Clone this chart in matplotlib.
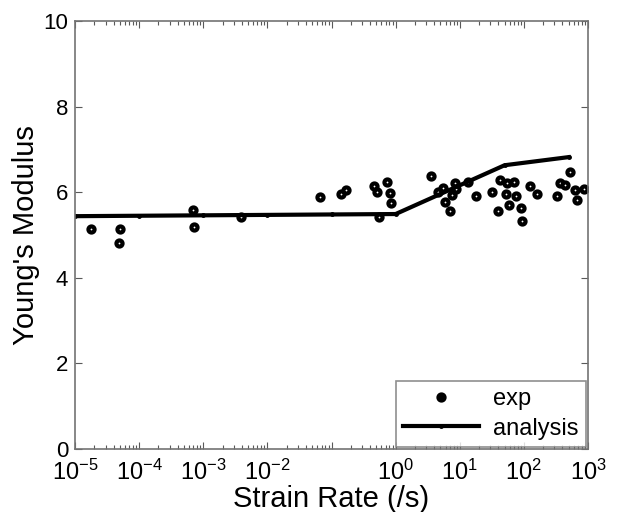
import matplotlib
matplotlib.use("Agg")
import matplotlib.pyplot as plt
import matplotlib.ticker as mticker

plt.rcParams['font.family'] = ['Liberation Sans', 'DejaVu Sans']
plt.rcParams['mathtext.fontset'] = 'custom'
plt.rcParams['mathtext.rm'] = 'Liberation Sans'
plt.rcParams['mathtext.it'] = 'Liberation Sans'
plt.rcParams['mathtext.bf'] = 'Liberation Sans'

# experimental points (strain rate, modulus)
exp_rate = [1.78e-5, 5.0e-5, 4.9e-5, 6.9e-4, 7.2e-4, 3.9e-3,
            0.065, 0.14, 0.17, 0.46, 0.51, 0.74, 0.82, 0.85, 0.55,
            3.6, 4.5, 5.5, 5.9, 7.1, 7.6, 8.5, 8.7, 13.5,
            18.2, 32, 40, 43, 52, 55, 59, 71, 76, 91, 93, 126, 162,
            331, 372, 437, 525, 631, 676, 851]
exp_mod = [5.14, 5.14, 4.81, 5.58, 5.19, 5.42,
           5.89, 5.96, 6.05, 6.14, 6.00, 6.24, 5.98, 5.75, 5.42,
           6.38, 6.00, 6.10, 5.77, 5.56, 5.93, 6.21, 6.07, 6.24,
           5.91, 6.00, 5.56, 6.29, 5.96, 6.21, 5.70, 6.24, 5.91, 5.63, 5.33, 6.14, 5.96,
           5.91, 6.21, 6.17, 6.47, 6.05, 5.82, 6.07]

# analysis curve
ana_rate = [1e-5, 1e-4, 1e-3, 1e-2, 1e-1, 1, 50, 500]
ana_mod = [5.44, 5.45, 5.46, 5.47, 5.48, 5.49, 6.63, 6.82]

xtick_vals = [1e-5, 1e-4, 1e-3, 1e-2, 1e-1, 1, 10, 100, 1000]
xtick_labels = ['$10^{-5}$', '$10^{-4}$', '$10^{-3}$', '$10^{-2}$', '',
                '$10^{0}$', '$10^{1}$', '$10^{2}$', '$10^{3}$']

fig = plt.figure(figsize=(6.17, 5.12), dpi=100)
ax = fig.add_axes([0.1216, 0.123, 0.8314, 0.836])

ax.plot(exp_rate, exp_mod, 'o', color='black', mfc='white', mec='black',
        ms=4.4, mew=3.0, linestyle='none', label='exp')
ax.plot(ana_rate, ana_mod, '-', color='black', lw=3, marker='.', ms=5,
        label='analysis')

ax.set_xscale('log')
ax.set_xlim(1e-5, 1e3)
ax.set_ylim(0, 10)
ax.set_xticks(xtick_vals)
ax.set_xticklabels(xtick_labels)
ax.xaxis.set_minor_locator(mticker.LogLocator(base=10, subs=range(2, 10), numticks=20))
ax.xaxis.set_minor_formatter(mticker.NullFormatter())
ax.set_yticks([0, 2, 4, 6, 8, 10])

ax.tick_params(which='both', direction='in', top=True, right=True,
               labelsize=16, color='0.35')
ax.tick_params(axis='x', which='major', labelsize=17, pad=8)
ax.tick_params(axis='y', which='major', pad=5)
ax.tick_params(which='major', length=5, width=0.8)
ax.tick_params(which='minor', length=3, width=0.8)
for s in ax.spines.values():
    s.set_color('0.45')
    s.set_linewidth(1.2)

ax.set_xlabel('Strain Rate (/s)', fontsize=21, labelpad=0)
ax.set_ylabel("Young's Modulus", fontsize=21, labelpad=2)

leg = ax.legend(loc='lower right', fontsize=17, frameon=True, fancybox=False,
                handlelength=3.2, handletextpad=0.6, borderaxespad=0.1,
                labelspacing=0.3, borderpad=0.3)
leg.legend_handles[0].set_markerfacecolor('black')
leg.get_frame().set_edgecolor('0.45')
leg.get_frame().set_linewidth(1.2)

fig.savefig('out.png', dpi=100)
